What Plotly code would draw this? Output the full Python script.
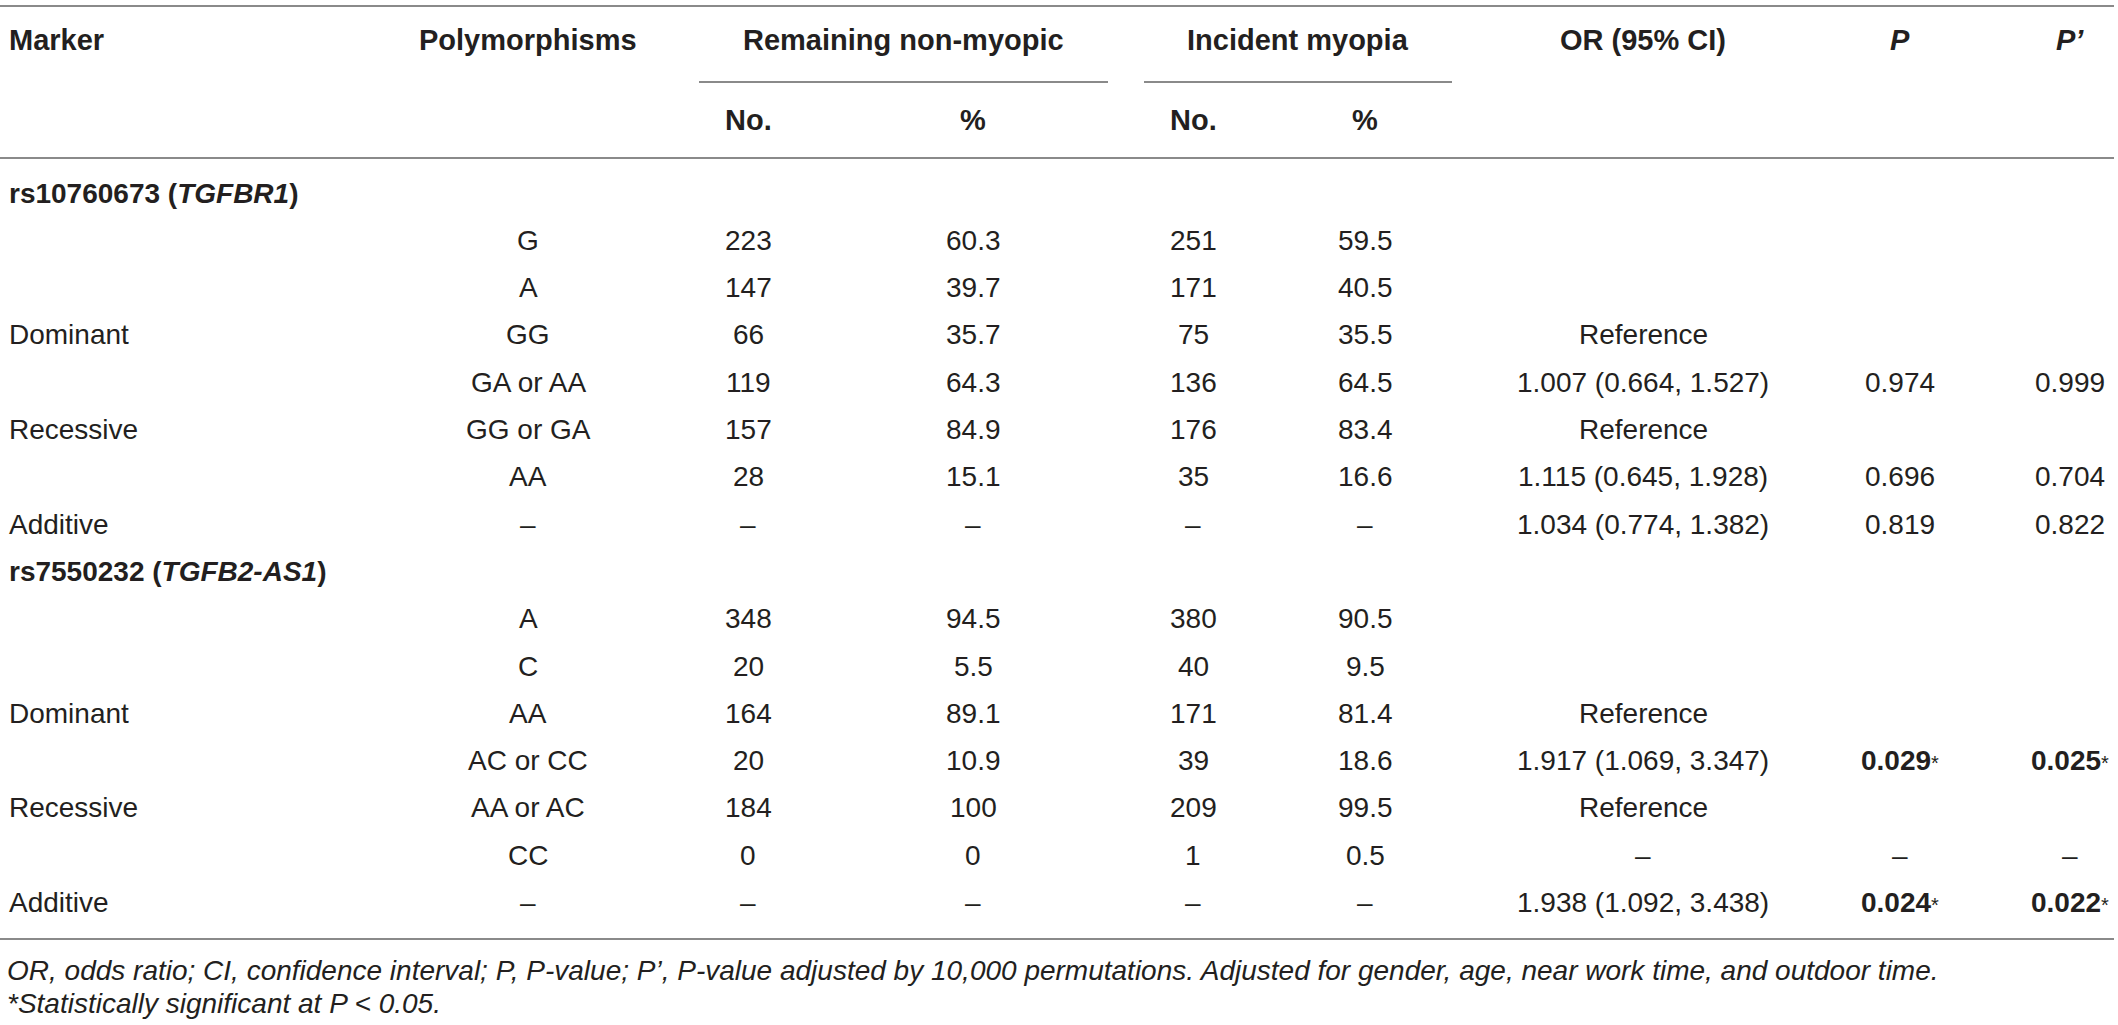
import plotly.graph_objects as go

# ---------------- data ----------------
marker_col = ["rs10760673 (<i>TGFBR1</i>)", "", "", "Dominant", "", "Recessive", "", "Additive",
              "rs7550232 (<i>TGFB2-AS1</i>)", "", "", "Dominant", "", "Recessive", "", "Additive"]
is_group = [True, False, False, False, False, False, False, False,
            True, False, False, False, False, False, False, False]
polymorphisms = ["", "G", "A", "GG", "GA or AA", "GG or GA", "AA", "–",
                 "", "A", "C", "AA", "AC or CC", "AA or AC", "CC", "–"]
nonmyopic_no = ["", "223", "147", "66", "119", "157", "28", "–",
                "", "348", "20", "164", "20", "184", "0", "–"]
nonmyopic_pct = ["", "60.3", "39.7", "35.7", "64.3", "84.9", "15.1", "–",
                 "", "94.5", "5.5", "89.1", "10.9", "100", "0", "–"]
myopia_no = ["", "251", "171", "75", "136", "176", "35", "–",
             "", "380", "40", "171", "39", "209", "1", "–"]
myopia_pct = ["", "59.5", "40.5", "35.5", "64.5", "83.4", "16.6", "–",
              "", "90.5", "9.5", "81.4", "18.6", "99.5", "0.5", "–"]
or_ci = ["", "", "", "Reference", "1.007 (0.664, 1.527)", "Reference", "1.115 (0.645, 1.928)",
         "1.034 (0.774, 1.382)", "", "", "", "Reference", "1.917 (1.069, 3.347)", "Reference", "–",
         "1.938 (1.092, 3.438)"]
p_val = ["", "", "", "", "0.974", "", "0.696", "0.819",
         "", "", "", "", "0.029*", "", "–", "0.024*"]
p_adj = ["", "", "", "", "0.999", "", "0.704", "0.822",
         "", "", "", "", "0.025*", "", "–", "0.022*"]

header_top = ["Marker", "Polymorphisms", "Remaining non-myopic", "Incident myopia",
              "OR (95% CI)", "<i>P</i>", "<i>P’</i>"]
header_sub = ["No.", "%", "No.", "%"]
footnotes = ["OR, odds ratio; CI, confidence interval; P, P-value; P’, P-value adjusted by 10,000 "
             "permutations. Adjusted for gender, age, near work time, and outdoor time.",
             "*Statistically significant at P &lt; 0.05."]

# ---------------- layout constants ----------------
W, H = 2118, 1025
FONT = "Liberation Sans, Arial, Helvetica, sans-serif"
TXT = "#231f20"
LINE = "#8a8a8a"
FS = 28
FS_HEAD = 29
FS_NOTE = 28

x_marker = 7
col_x = {"poly": 528, "nn": 748, "np": 973, "in": 1193, "ip": 1365,
         "or": 1643, "p": 1900, "pa": 2070}
grp_non = (699, 1108)
grp_inc = (1144, 1452)
y_head1, y_head2 = 40, 120
y_row0, row_h = 193, 47.3

annotations = []


def add(text, x, y, anchor="center", size=FS, bold=False):
    if bold:
        text = "<b>" + text + "</b>"
    annotations.append(dict(x=x, y=y, xref="x", yref="y", text=text, showarrow=False,
                            xanchor=anchor, yanchor="middle",
                            font=dict(family=FONT, size=size, color=TXT)))


def pfmt(s):
    if s.endswith("*"):
        return "<b>" + s[:-1] + "</b><span style='font-size:20px'>*</span>"
    return s


# header
add(header_top[0], x_marker, y_head1, "left", size=FS_HEAD, bold=True)
add(header_top[1], col_x["poly"], y_head1, size=FS_HEAD, bold=True)
add(header_top[2], sum(grp_non) / 2, y_head1, size=FS_HEAD, bold=True)
add(header_top[3], sum(grp_inc) / 2, y_head1, size=FS_HEAD, bold=True)
add(header_top[4], col_x["or"], y_head1, size=FS_HEAD, bold=True)
add(header_top[5], col_x["p"], y_head1, size=FS_HEAD, bold=True)
add(header_top[6], col_x["pa"], y_head1, size=FS_HEAD, bold=True)
for t, k in zip(header_sub, ["nn", "np", "in", "ip"]):
    add(t, col_x[k], y_head2, size=FS_HEAD, bold=True)

# body
for i in range(len(marker_col)):
    y = y_row0 + i * row_h
    if marker_col[i]:
        add(marker_col[i], x_marker, y, "left", bold=is_group[i])
    for key, arr in [("poly", polymorphisms), ("nn", nonmyopic_no), ("np", nonmyopic_pct),
                     ("in", myopia_no), ("ip", myopia_pct), ("or", or_ci)]:
        if arr[i]:
            add(arr[i], col_x[key], y)
    if p_val[i]:
        add(pfmt(p_val[i]), col_x["p"], y)
    if p_adj[i]:
        add(pfmt(p_adj[i]), col_x["pa"], y)

# footnotes
add("<i>" + footnotes[0] + "</i>", x_marker - 2, 970, "left", size=FS_NOTE)
add("<i>" + footnotes[1] + "</i>", x_marker - 2, 1003, "left", size=FS_NOTE)

# rules
shapes = []


def hline(x0, x1, y, w=2):
    shapes.append(dict(type="line", xref="x", yref="y", x0=x0, x1=x1, y0=y, y1=y,
                       line=dict(color=LINE, width=w)))


hline(0, 2114, 6)
hline(grp_non[0], grp_non[1], 82)
hline(grp_inc[0], grp_inc[1], 82)
hline(0, 2114, 158)
hline(0, 2114, 939)

fig = go.Figure()
fig.add_trace(go.Scatter(x=[0, W], y=[0, H], mode="markers", marker=dict(opacity=0),
                         hoverinfo="skip", showlegend=False))
fig.update_layout(width=W, height=H, margin=dict(l=0, r=0, t=0, b=0),
                  paper_bgcolor="white", plot_bgcolor="white",
                  xaxis=dict(range=[0, W], visible=False, fixedrange=True),
                  yaxis=dict(range=[H, 0], visible=False, fixedrange=True),
                  annotations=annotations, shapes=shapes, showlegend=False)

fig.write_html("out.html", config={"displayModeBar": False},
               post_script="document.body.style.margin='0';document.body.style.overflow='hidden';")
